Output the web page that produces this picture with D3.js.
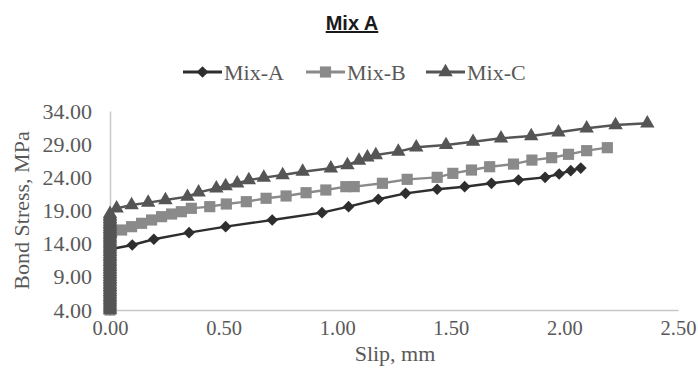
<!DOCTYPE html>
<html>
<head>
<meta charset="utf-8">
<script src="https://cdn.jsdelivr.net/npm/d3@7"></script>
<style>
  html, body { margin: 0; padding: 0; background: #fff; }
  svg { display: block; }
</style>
</head>
<body>
<svg id="chart" width="698" height="378"></svg>
<script>
// ---- data ----
const seriesNames = ["Mix-A", "Mix-B", "Mix-C"];
const xTicks = [0.00, 0.50, 1.00, 1.50, 2.00, 2.50];
const yTicks = [4.00, 9.00, 14.00, 19.00, 24.00, 29.00, 34.00];

const mixASlip = [0, 0, 0, 0, 0, 0, 0, 0, 0, 0,
  0.098, 0.193, 0.348, 0.509, 0.714, 0.933, 1.050, 1.181, 1.301, 1.440,
  1.561, 1.679, 1.798, 1.915, 1.977, 2.028, 2.072];
const mixAStress = [4.0, 5.0, 6.0, 7.0, 8.0, 9.0, 10.0, 11.0, 12.0, 13.15,
  13.8, 14.66, 15.66, 16.56, 17.57, 18.67, 19.58, 20.69, 21.59, 22.2,
  22.59, 23.1, 23.6, 24.0, 24.5, 25.0, 25.4];

const mixBSlip = [0, 0, 0, 0, 0, 0, 0, 0, 0, 0, 0, 0, 0.007,
  0.051, 0.095, 0.139, 0.183, 0.227, 0.271, 0.314, 0.358, 0.439, 0.512,
  0.600, 0.687, 0.775, 0.863, 0.950, 1.038, 1.075, 1.199, 1.308, 1.440,
  1.509, 1.591, 1.671, 1.776, 1.857, 1.944, 2.018, 2.098, 2.189];
const mixBStress = [4.0, 5.0, 6.0, 7.0, 8.0, 9.0, 10.0, 11.0, 12.0, 13.0, 14.0, 15.0, 15.8,
  16.06, 16.56, 17.07, 17.57, 18.07, 18.47, 18.82, 19.33, 19.58, 19.98,
  20.33, 20.84, 21.19, 21.68, 22.09, 22.59, 22.6, 23.1, 23.7, 24.0,
  24.6, 25.1, 25.6, 26.0, 26.6, 26.96, 27.47, 28.02, 28.47];

const mixCSlip = [0, 0, 0, 0, 0, 0, 0, 0, 0, 0, 0, 0, 0, 0, 0,
  0, 0, 0, 0, 0, 0, 0, 0, 0, 0, 0, 0, 0, 0, 0,
  0, 0, 0, 0, 0, 0, 0, 0, 0, 0, 0, 0, 0, 0, 0,
  0, 0, 0, 0, 0, 0, 0, 0, 0, 0, 0, 0, 0, 0,
  0.029, 0.095, 0.168, 0.244, 0.341, 0.390, 0.468, 0.509, 0.560, 0.611,
  0.677, 0.760, 0.848, 0.972, 1.045, 1.096, 1.133, 1.170, 1.269, 1.348,
  1.479, 1.598, 1.721, 1.854, 1.974, 2.098, 2.225, 2.365];
const mixCStress = [4.0, 4.25, 4.5, 4.75, 5.0, 5.25, 5.5, 5.75, 6.0, 6.25, 6.5, 6.75, 7.0, 7.25, 7.5,
  7.75, 8.0, 8.25, 8.5, 8.75, 9.0, 9.25, 9.5, 9.75, 10.0, 10.25, 10.5, 10.75, 11.0, 11.25,
  11.5, 11.75, 12.0, 12.25, 12.5, 12.75, 13.0, 13.25, 13.5, 13.75, 14.0, 14.25, 14.5, 14.75, 15.0,
  15.25, 15.5, 15.75, 16.0, 16.25, 16.5, 16.75, 17.0, 17.25, 17.5, 17.75, 18.0, 18.25, 18.5,
  19.33, 19.83, 20.18, 20.58, 21.08, 21.74, 22.35, 22.69, 23.1, 23.6,
  23.95, 24.35, 24.85, 25.36, 25.86, 26.51, 27.02, 27.37, 27.87, 28.53,
  28.88, 29.37, 29.89, 30.23, 30.79, 31.39, 31.89, 32.15];

// ---- layout ----
const svg = d3.select("#chart");
const margin = { left: 110, right: 20, top: 111, bottom: 68 };
const W = 698, H = 378;
const x = d3.scaleLinear().domain([0, 2.5]).range([margin.left, W - margin.right]);
const y = d3.scaleLinear().domain([4, 34]).range([H - margin.bottom, margin.top]);

const serif = "'Liberation Serif', 'Times New Roman', serif";
const textCol = "#595959";
const axisCol = "#c8c8c8";
const fs = 22;

// title
svg.append("text")
  .attr("x", 352).attr("y", 30)
  .attr("text-anchor", "middle")
  .attr("font-family", "'Liberation Sans', Arial, sans-serif")
  .attr("font-weight", "bold")
  .attr("font-size", 20)
  .attr("fill", "#1a1a1a")
  .attr("text-decoration", "underline")
  .text("Mix A");

// axes
const xAxis = d3.axisBottom(x).tickValues(xTicks).tickFormat(d3.format(".2f")).tickSize(0).tickPadding(8);
const yAxis = d3.axisLeft(y).tickValues(yTicks).tickFormat(d3.format(".2f")).tickSize(0).tickPadding(18);

const gx = svg.append("g").attr("transform", `translate(0,${y(4)})`).call(xAxis);
const gy = svg.append("g").attr("transform", `translate(${x(0)},0)`).call(yAxis);
[gx, gy].forEach(g => {
  g.select(".domain").attr("stroke", axisCol).attr("stroke-width", 1.5);
  g.selectAll("text").attr("font-family", serif).attr("font-size", fs).attr("fill", textCol);
});
gx.selectAll("text").attr("dy", "0.85em").attr("font-size", 20.5);

// axis titles
svg.append("text")
  .attr("x", 395).attr("y", 361)
  .attr("text-anchor", "middle")
  .attr("font-family", serif).attr("font-size", fs).attr("fill", textCol)
  .text("Slip, mm");
svg.append("text")
  .attr("transform", `translate(29,${(y(4) + y(34)) / 2}) rotate(-90)`)
  .attr("text-anchor", "middle")
  .attr("font-family", serif).attr("font-size", fs).attr("fill", textCol)
  .text("Bond Stress, MPa");

// series
const colors = ["#2e2e2e", "#8a8a8a", "#555555"];
const symbols = [
  d3.symbol(d3.symbolSquare, 68),
  d3.symbol(d3.symbolSquare, 125),
  d3.symbol(d3.symbolTriangle, 90)
];
const rotations = [45, 0, 0];
const slips = [mixASlip, mixBSlip, mixCSlip];
const stresses = [mixAStress, mixBStress, mixCStress];

const line = d3.line().x(d => x(d[0])).y(d => y(d[1]));

seriesNames.forEach((name, i) => {
  const pts = slips[i].map((s, j) => [s, stresses[i][j]]);
  const g = svg.append("g");
  g.append("path").datum(pts)
    .attr("d", line).attr("fill", "none")
    .attr("stroke", colors[i]).attr("stroke-width", 2.4);
  g.selectAll("path.m").data(pts).join("path")
    .attr("class", "m")
    .attr("d", symbols[i])
    .attr("transform", d => `translate(${x(d[0])},${y(d[1])}) rotate(${rotations[i]})`)
    .attr("fill", colors[i]);
});

// legend
const legendX = [183, 306, 426];
const legendY = 72;
seriesNames.forEach((name, i) => {
  const g = svg.append("g").attr("transform", `translate(${legendX[i]},${legendY})`);
  g.append("line").attr("x1", 0).attr("x2", 39).attr("y1", 0).attr("y2", 0)
    .attr("stroke", colors[i]).attr("stroke-width", 2.8);
  g.append("path").attr("d", symbols[i])
    .attr("transform", `translate(19.5,0) rotate(${rotations[i]})`)
    .attr("fill", colors[i]);
  g.append("text").attr("x", 41).attr("y", 0).attr("dy", "0.35em")
    .attr("font-family", serif).attr("font-size", fs).attr("fill", textCol)
    .text(name);
});
</script>
</body>
</html>
